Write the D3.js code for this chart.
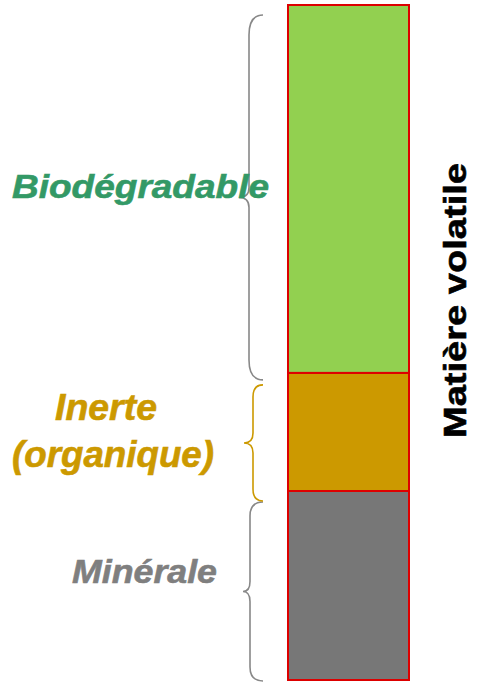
<!DOCTYPE html>
<html>
<head>
<meta charset="utf-8">
<script src="https://cdn.jsdelivr.net/npm/d3@7"></script>
<style>
  body { margin: 0; background: #fff; }
  text { font-family: 'Liberation Sans', Arial, sans-serif; font-weight: bold; }
</style>
</head>
<body>
<div id="chart"></div>
<script>
// stack order: bottom to top
const categories = ['Minérale', 'Inerte', 'Biodégradable']
const values = [28, 17.5, 54.5]
const fills = ['#777777', '#CC9900', '#92D050']
const textColors = ['#7F7F7F', '#CC9900', '#339966']

const width = 477
const height = 683

const svg = d3
  .select('#chart')
  .append('svg')
  .attr('width', width)
  .attr('height', height)

const total = d3.sum(values)
const yScale = d3.scaleLinear().domain([0, total]).range([680, 5])
const xScale = d3.scaleBand().domain(['col']).range([288, 409])

// cumulative stack
let acc = 0
const stacked = categories.map((c, i) => {
  const d = { name: c, y0: acc, y1: acc + values[i], fill: fills[i], color: textColors[i] }
  acc += values[i]
  return d
})

svg
  .selectAll('.seg')
  .data(stacked)
  .enter()
  .append('rect')
  .attr('class', 'seg')
  .attr('x', xScale('col'))
  .attr('width', xScale.bandwidth())
  .attr('y', d => yScale(d.y1))
  .attr('height', d => yScale(d.y0) - yScale(d.y1))
  .attr('fill', d => d.fill)
  .attr('stroke', '#DD0000')
  .attr('stroke-width', 2)

// curly brace, tip pointing left
function brace(y0, y1, xr, xv, xt, r) {
  const ym = (y0 + y1) / 2
  const r2 = Math.min(r, 10)
  const p = d3.path()
  p.moveTo(xr, y0)
  p.quadraticCurveTo(xv, y0, xv, y0 + r)
  p.lineTo(xv, ym - r2)
  p.quadraticCurveTo(xv, ym, xt, ym)
  p.quadraticCurveTo(xv, ym, xv, ym + r2)
  p.lineTo(xv, y1 - r)
  p.quadraticCurveTo(xv, y1, xr, y1)
  return p.toString()
}

const braces = [
  { top: yScale(stacked[0].y1) + 11, bot: yScale(0) + 1, xv: 250, xt: 243, r: 14, color: '#888888' },
  { top: yScale(stacked[1].y1) + 12, bot: yScale(stacked[1].y0) + 10, xv: 253, xt: 244, r: 12, color: '#CC9900' },
  { top: yScale(total) + 10, bot: yScale(stacked[2].y0) + 7, xv: 249, xt: 239, r: 20, color: '#888888' }
]

svg
  .selectAll('.brace')
  .data(braces)
  .enter()
  .append('path')
  .attr('class', 'brace')
  .attr('d', d => brace(d.top, d.bot, 263, d.xv, d.xt, d.r))
  .attr('fill', 'none')
  .attr('stroke', d => d.color)
  .attr('stroke-width', 1.6)

// labels
const labels = [
  { text: 'Minérale', x: 72, y: 583, size: 33, len: 145, color: textColors[0] },
  { text: 'Inerte', x: 55, y: 420, size: 36, len: 102, color: textColors[1] },
  { text: '(organique)', x: 12, y: 467, size: 36, len: 202, color: textColors[1] },
  { text: 'Biodégradable', x: 12, y: 198, size: 34, len: 257, color: textColors[2] }
]

svg
  .selectAll('.label')
  .data(labels)
  .enter()
  .append('text')
  .attr('class', 'label')
  .attr('x', d => d.x)
  .attr('y', d => d.y)
  .attr('font-size', d => d.size)
  .attr('font-style', 'italic')
  .attr('textLength', d => d.len)
  .attr('lengthAdjust', 'spacingAndGlyphs')
  .attr('fill', d => d.color)
  .attr('stroke', d => d.color)
  .attr('stroke-width', 0.6)
  .text(d => d.text)

svg
  .append('text')
  .attr('transform', 'translate(466,438) rotate(-90)')
  .attr('font-size', 31)
  .attr('textLength', 275)
  .attr('lengthAdjust', 'spacingAndGlyphs')
  .attr('fill', '#000')
  .attr('stroke', '#000')
  .attr('stroke-width', 0.6)
  .text('Matière volatile')
</script>
</body>
</html>
